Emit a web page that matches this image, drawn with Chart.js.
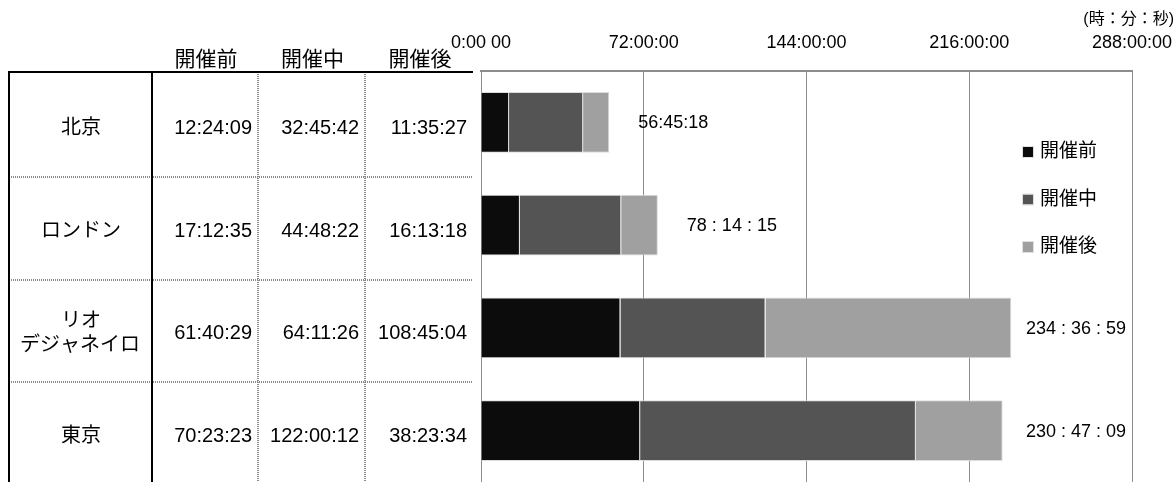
<!DOCTYPE html>
<html>
<head>
<meta charset="utf-8">
<script src="https://cdn.jsdelivr.net/npm/chart.js@4/dist/chart.umd.min.js"></script>
<style>
  html, body { margin: 0; padding: 0; background: #fff; overflow: hidden; }
  canvas { display: block; }
</style>
</head>
<body>
<canvas id="chart" width="1176" height="482"></canvas>
<script>
// ### data
const cities = [['北京'], ['ロンドン'], ['リオ', 'デジャネイロ'], ['東京']];
const seriesNames = ['開催前', '開催中', '開催後'];
const beforeTimes = ['12:24:09', '17:12:35', '61:40:29', '70:23:23'];
const duringTimes = ['32:45:42', '44:48:22', '64:11:26', '122:00:12'];
const afterTimes = ['11:35:27', '16:13:18', '108:45:04', '38:23:34'];
const totalLabels = ['56:45:18', '78 : 14 : 15', '234 : 36 : 59', '230 : 47 : 09'];
const xTicks = [0, 72, 144, 216, 288];
const xTickLabels = ['0:00 00', '72:00:00', '144:00:00', '216:00:00', '288:00:00'];
const unitLabel = '(時：分：秒)';

const colors = ['#0c0c0c', '#545454', '#a0a0a0'];
const FONT = '"Liberation Sans", "Noto Sans CJK JP", sans-serif';

// "h:mm:ss" -> hours
function toHours(s) {
    const p = s.split(':').map(Number);
    return p[0] + p[1] / 60 + p[2] / 3600;
}

const tables = [beforeTimes, duringTimes, afterTimes];

// ### table, totals, legend and unit drawn on the same canvas
const extras = {
    id: 'extras',
    afterDraw(chart) {
        const ctx = chart.ctx;
        const y = chart.scales.y;
        const x = chart.scales.x;
        const area = chart.chartArea;
        const band = (y.getPixelForValue(1) - y.getPixelForValue(0));
        const colRight = [152, 258, 365, 473];
        const colLeft = 9;

        ctx.save();

        // header
        ctx.fillStyle = '#000';
        ctx.font = '21px ' + FONT;
        ctx.textAlign = 'center';
        ctx.textBaseline = 'middle';
        for (let c = 0; c < 3; c++) {
            ctx.fillText(seriesNames[c], (colRight[c] + colRight[c + 1]) / 2 + 1, 60);
        }

        // row lines (dotted)
        ctx.strokeStyle = '#8a8a8a';
        ctx.lineWidth = 2;
        ctx.setLineDash([1, 1]);
        for (let i = 0; i < cities.length - 1; i++) {
            const ly = Math.round(y.getPixelForValue(i) + band / 2) + 3;
            ctx.beginPath();
            ctx.moveTo(colLeft, ly);
            ctx.lineTo(colRight[3], ly);
            ctx.stroke();
        }
        // inner column lines (dotted)
        [258, 365].forEach(cx => {
            ctx.beginPath();
            ctx.moveTo(cx, area.top + 1);
            ctx.lineTo(cx, chart.height);
            ctx.stroke();
        });
        ctx.setLineDash([]);

        // solid black lines
        ctx.strokeStyle = '#000';
        ctx.lineWidth = 2;
        ctx.beginPath();
        ctx.moveTo(colLeft - 1, area.top + 1);
        ctx.lineTo(colRight[3], area.top + 1);
        ctx.moveTo(colLeft, area.top + 1);
        ctx.lineTo(colLeft, chart.height);
        ctx.moveTo(colRight[0], area.top + 1);
        ctx.lineTo(colRight[0], chart.height);
        ctx.stroke();

        // cells
        ctx.font = '20px ' + FONT;
        for (let i = 0; i < cities.length; i++) {
            const cy = y.getPixelForValue(i) + 6;
            ctx.textAlign = 'center';
            const lines = cities[i];
            if (lines.length === 1) {
                ctx.fillText(lines[0], 81, cy);
            } else {
                ctx.fillText(lines[0], 81, cy - 12);
                ctx.fillText(lines[1], 80, cy + 12);
            }
            ctx.textAlign = 'right';
            for (let c = 0; c < 3; c++) {
                ctx.fillText(tables[c][i], colRight[c + 1] - 6, cy);
            }
        }

        // totals next to the bars
        ctx.font = '18px ' + FONT;
        ctx.textAlign = 'left';
        for (let i = 0; i < cities.length; i++) {
            const total = tables.reduce((s, t) => s + toHours(t[i]), 0);
            const w = ctx.measureText(totalLabels[i]).width;
            const lx = Math.min(x.getPixelForValue(total) + 29, area.right - 6 - w);
            ctx.fillText(totalLabels[i], lx, y.getPixelForValue(i) + 1);
        }

        // legend
        ctx.font = '19px ' + FONT;
        chart.data.datasets.forEach((ds, k) => {
            const ly = 152 + k * 47.5;
            ctx.fillStyle = ds.backgroundColor;
            ctx.fillRect(1023, ly - 5, 10, 10);
            ctx.strokeStyle = '#e0e0e0';
            ctx.lineWidth = 1;
            ctx.strokeRect(1022.5, ly - 5.5, 11, 11);
            ctx.fillStyle = '#000';
            ctx.fillText(ds.label, 1040, ly);
        });

        // unit
        ctx.font = '16px ' + FONT;
        ctx.textAlign = 'right';
        ctx.fillText(unitLabel, 1174, 20);

        ctx.restore();
    }
};

const config = {
    type: 'bar',
    data: {
        labels: cities.map(c => c.join('')),
        datasets: tables.map((t, k) => ({
            label: seriesNames[k],
            data: t.map(toHours),
            backgroundColor: colors[k],
            borderColor: '#dcdcdc',
            borderWidth: 1,
            barPercentage: 0.59,
            categoryPercentage: 1
        }))
    },
    options: {
        indexAxis: 'y',
        responsive: false,
        animation: false,
        layout: { padding: { left: 481, right: 44, top: 0, bottom: 0 } },
        plugins: { legend: { display: false }, tooltip: { enabled: false } },
        scales: {
            x: {
                position: 'top',
                stacked: true,
                min: 0,
                max: 288,
                afterBuildTicks(scale) { scale.ticks = xTicks.map(v => ({ value: v })); },
                afterFit(scale) {
                    scale.height = 71;
                    scale.paddingLeft = 0;
                    scale.paddingRight = 0;
                },
                ticks: {
                    padding: 17,
                    color: '#000',
                    maxRotation: 0,
                    font: { family: FONT, size: 18 },
                    callback: v => xTickLabels[xTicks.indexOf(v)]
                },
                grid: { color: '#8c8c8c', lineWidth: 1, drawTicks: false },
                border: { display: true, color: '#8c8c8c', width: 2 }
            },
            y: {
                stacked: true,
                display: false
            }
        }
    },
    plugins: [extras]
};

new Chart(document.getElementById('chart'), config);
</script>
</body>
</html>
